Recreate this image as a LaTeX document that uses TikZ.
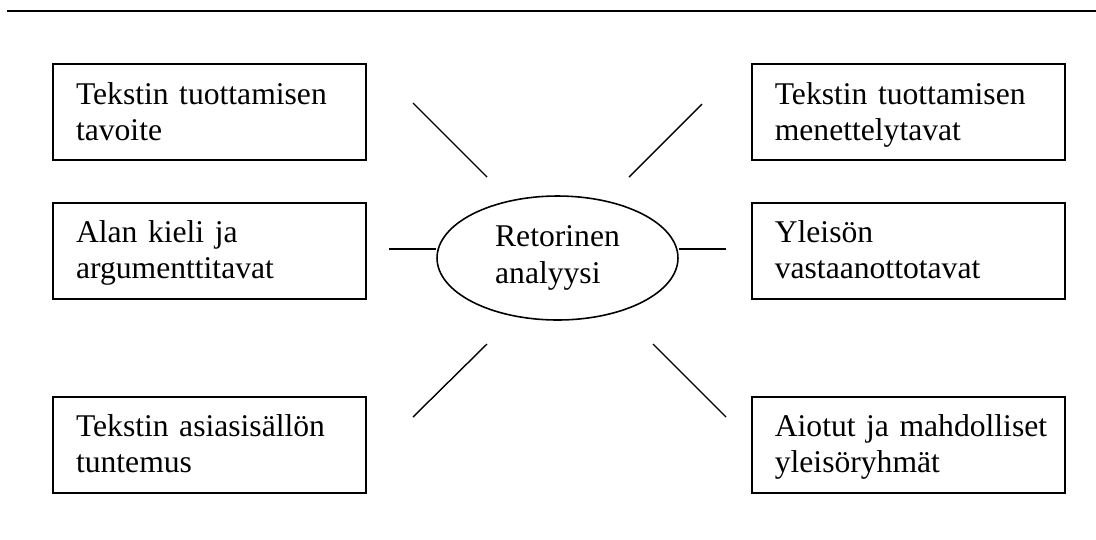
\documentclass[tikz,border=0pt]{standalone}
\usepackage{fontspec}
\setmainfont{Liberation Serif}
\usetikzlibrary{positioning, shapes.geometric}

\begin{document}
\begin{tikzpicture}[
  x=0.02cm, y=-0.02cm,
  node distance=0.82cm and 7.68cm,
  box/.style = {rectangle, draw, line width=1.1pt, minimum width=6.26cm, minimum height=1.92cm, text width=5.34cm, inner xsep=0.46cm, inner ysep=0pt, text height=0.8cm, text depth=1.12cm, align=left, font=\fontsize{18}{20.5}\selectfont},
  hub/.style = {ellipse, draw, line width=0.9pt, minimum width=4.82cm, minimum height=2.48cm, inner sep=0pt, align=left, font=\fontsize{18}{21.5}\selectfont},
  link/.style = {line width=0.8pt}
  ]

\useasboundingbox (0,0) rectangle (1096,539);

% rule across the top
\coordinate (ruleL) at (7,11);
\coordinate (ruleR) at (1096,11);
\draw[line width=1.2pt] (ruleL) -- (ruleR);

\node[box] (aim) at (209.5,112) {Tekstin tuottamisen\\tavoite};
\node[box, below=of aim] (field) {Alan kieli ja\\argumenttitavat};
\node[box, below=1.92cm of field] (content) {Tekstin asiasisällön\\tuntemus};
\node[box, right=of aim] (methods) {Tekstin tuottamisen\\menettelytavat};
\node[box, right=of field] (reception) {Yleisön\\vastaanottotavat};
\node[box, right=of content] (groups) {\mbox{Aiotut ja mahdolliset}\\yleisöryhmät};

\node[hub] (hub) at (557.5,258) {Retorinen\\analyysi};

% spokes
\coordinate (aimEnd) at (413,103);
\coordinate (aimHub) at (487,177);
\coordinate (methodsEnd) at (702,104);
\coordinate (methodsHub) at (629,177);
\coordinate (contentEnd) at (413,417);
\coordinate (contentHub) at (487,344);
\coordinate (groupsEnd) at (726,417);
\coordinate (groupsHub) at (653,344);
\coordinate (fieldEnd) at (389,249);
\coordinate (receptionEnd) at (726,249);

\draw[link] (aimEnd) -- (aimHub);
\draw[link] (methodsEnd) -- (methodsHub);
\draw[link] (contentEnd) -- (contentHub);
\draw[link] (groupsEnd) -- (groupsHub);
\draw[link] (fieldEnd) -- (fieldEnd -| hub.west);
\draw[link] (receptionEnd) -- (receptionEnd -| hub.east);

\end{tikzpicture}
\end{document}
